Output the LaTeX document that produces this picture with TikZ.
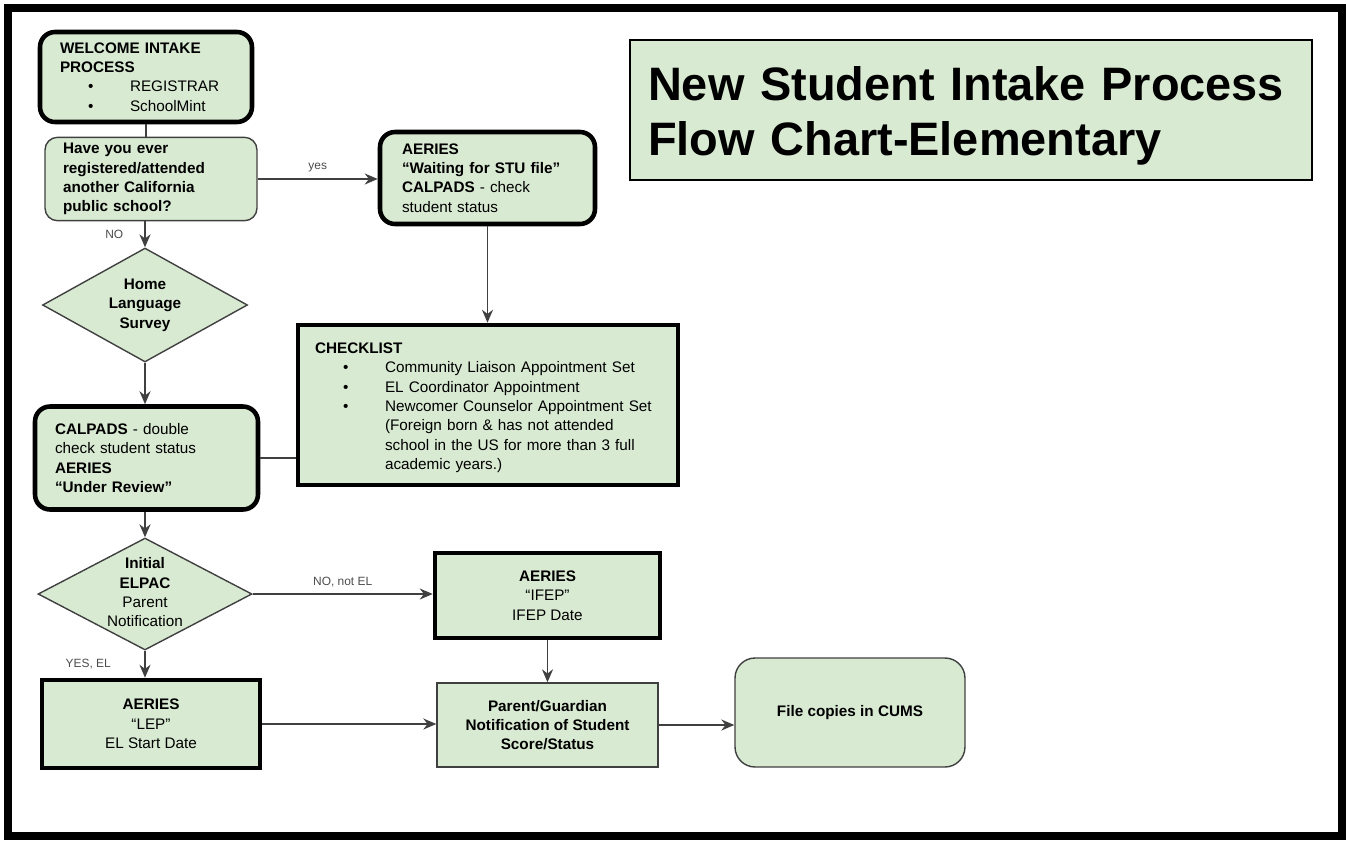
\documentclass[tikz,border=0pt]{standalone}
\usepackage{fontspec}
\setmainfont{Liberation Sans}
\usepackage{xcolor}
\usetikzlibrary{shapes.geometric, arrows, arrows.meta}
\usetikzlibrary{positioning}
\definecolor{boxgreen}{HTML}{D9EAD3}
\tikzstyle{process} = [rectangle, fill=boxgreen, draw=black!75, line width=0.8pt, align=left]
\tikzstyle{heavyBox} = [rectangle, fill=boxgreen, draw=black, line width=2.6pt, align=left]
\tikzstyle{decision} = [diamond, inner sep=0pt, fill=boxgreen, draw=black!75, line width=0.8pt]
\tikzstyle{arrow} = [line width=1pt, draw=black!75, ->, >={Stealth[length=2.6mm, width=2.2mm]}]
\tikzstyle{line} = [line width=1pt, draw=black!75]
\tikzstyle{edgeLabel} = [font=\fontsize{6.8}{8}\selectfont, text=black!70]
\newcommand{\bul}[1]{\hspace*{0.56cm}\makebox[0.84cm][l]{\textbullet}#1}
\newcommand{\dtext}[1]{\makebox[0pt]{\begin{tabular}{@{}c@{}}#1\end{tabular}}}

\begin{document}
\begin{tikzpicture}[x=0.02cm, y=-0.02cm, font=\fontsize{8.7}{11}\selectfont]
\useasboundingbox (0,0) rectangle (1347,840);
\draw [line width=0.16cm] (8,8) rectangle (1342,836);

% title
\node (title) [process, draw=black, line width=1.6pt, minimum width=13.64cm, minimum height=2.8cm, text width=12.92cm, text height=0.9cm, inner xsep=0.36cm, font=\fontsize{26.7}{31.2}\selectfont\bfseries] at (971,110) {New Student Intake Process\\ Flow Chart-Elementary};

% left column
\node (welcome) [heavyBox, rounded corners=0.3cm, minimum width=4.24cm, minimum height=1.8cm, text width=3.44cm, inner xsep=0.4cm] at (146,77) {\textbf{WELCOME INTAKE}\\ \textbf{PROCESS}\\ \bul{REGISTRAR}\\ \bul{SchoolMint}};
\node (question) [process, rounded corners=0.25cm, minimum width=4.24cm, minimum height=1.64cm, text width=3.52cm, inner xsep=0.36cm] at (151,179) {\textbf{Have you ever}\\ \textbf{registered/attended}\\ \textbf{another California}\\ \textbf{public school?}};
\node (home) [decision, minimum width=4.1cm, minimum height=2.28cm] at (145,305) {\dtext{\textbf{Home}\\ \textbf{Language}\\ \textbf{Survey}}};
\node (calpads) [heavyBox, rounded corners=0.3cm, minimum width=4.46cm, minimum height=2.06cm, text width=3.66cm, inner xsep=0.4cm] at (146.5,458) {\textbf{CALPADS} - double\\ check student status\\ \textbf{AERIES}\\ \textbf{“Under Review”}};
\node (elpac) [decision, minimum width=4.28cm, minimum height=2.24cm] at (145,594) {\dtext{\textbf{Initial}\\ \textbf{ELPAC}\\ Parent\\ Notification}};
\node (lep) [heavyBox, align=center, minimum width=4.36cm, minimum height=1.76cm] at (151,724) {\textbf{AERIES}\\ “LEP”\\ EL Start Date};

% middle column
\node (aeries) [heavyBox, rounded corners=0.3cm, minimum width=4.3cm, minimum height=1.84cm, text width=3.42cm, inner xsep=0.44cm] at (487.5,178) {\textbf{AERIES}\\ \textbf{“Waiting for STU file”}\\ \textbf{CALPADS} - check\\ student status};
\node (checklist) [heavyBox, minimum width=7.6cm, minimum height=3.2cm, text width=6.92cm, text height=0.32cm, inner xsep=0.34cm] at (488,405) {\textbf{CHECKLIST}\\ \bul{Community Liaison Appointment Set}\\ \bul{EL Coordinator Appointment}\\ \bul{Newcomer Counselor Appointment Set}\\ \hspace*{1.4cm}(Foreign born \& has not attended\\ \hspace*{1.4cm}school in the US for more than 3 full\\ \hspace*{1.4cm}academic years.)};
\node (ifep) [heavyBox, align=center, minimum width=4.5cm, minimum height=1.7cm] at (547.5,595.5) {\textbf{AERIES}\\ “IFEP”\\ IFEP Date};
\node (parent) [process, align=center, minimum width=4.42cm, minimum height=1.68cm] at (547.5,725) {\textbf{Parent/Guardian}\\ \textbf{Notification of Student}\\ \textbf{Score/Status}};
\node (file) [process, rounded corners=0.4cm, align=center, minimum width=4.6cm, minimum height=2.18cm] at (850,712.5) {\textbf{File copies in CUMS}};

% connectors
\draw [line] (welcome.south) -- (welcome.south |- question.north);
\draw [arrow] (question.east) -- node [above, edgeLabel] {yes} (question.east -| aeries.west);
\draw [arrow] (question.south -| home.north) -- node [left, edgeLabel, xshift=-0.3cm] {NO} (home.north);
\draw [arrow] (home.south) -- (home.south |- calpads.north);
\draw [arrow] (aeries.south) -- (aeries.south |- checklist.north);
\draw [line] (calpads.east) -- (calpads.east -| checklist.west);
\draw [arrow] (calpads.south -| elpac.north) -- (elpac.north);
\draw [arrow] (elpac.east) -- node [above, edgeLabel] {NO, not EL} (elpac.east -| ifep.west);
\draw [arrow] (elpac.south) -- node [left, edgeLabel, xshift=-0.55cm] {YES, EL} (elpac.south |- lep.north);
\draw [arrow] (ifep.south) -- (ifep.south |- parent.north);
\draw [arrow] (lep.east) -- (lep.east -| parent.west);
\draw [arrow] (parent.east) -- (parent.east -| file.west);
\end{tikzpicture}
\end{document}
